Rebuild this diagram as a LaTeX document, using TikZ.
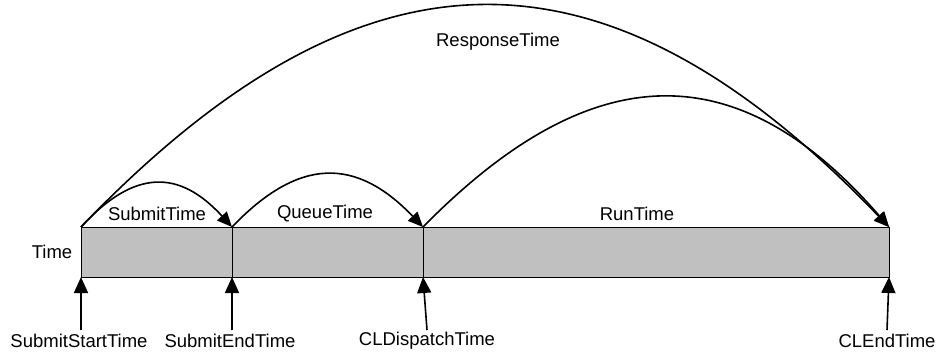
\documentclass[tikz,border=0pt]{standalone}
\usepackage{fontspec}
\setmainfont{Liberation Sans}
\usetikzlibrary{arrows.meta}
\begin{document}
\begin{tikzpicture}[x=1pt,y=-1pt,
  lbl/.style={font=\fontsize{18.5}{22}\selectfont, inner sep=1pt},
  seg/.style={draw=black, line width=0.8pt, fill={rgb,255:red,192;green,192;blue,192}},
  span/.style={line width=1.6pt, -{Triangle[length=15pt,width=13pt]}},
  eventarrow/.style={line width=1.6pt, -{Triangle[length=16pt,width=14pt]}}]
\useasboundingbox (0,0) rectangle (936,354);

% time points along the bar
\coordinate (t0) at (81,227);
\coordinate (t1) at (232,227);
\coordinate (t2) at (423,227);
\coordinate (t3) at (889,227);
\coordinate (b0) at (81,277);
\coordinate (b1) at (232,277);
\coordinate (b2) at (423,277);
\coordinate (b3) at (889,277);

% the time bar, one grey segment per phase
\draw[seg] (t0) rectangle (b1);
\draw[seg] (t1) rectangle (b2);
\draw[seg] (t2) rectangle (b3);

\node[lbl] (time) at (52,252) {Time};

% phase labels
\node[lbl] (submit) at (157,214) {SubmitTime};
\node[lbl] (queue) at (325,214) {QueueTime};
\node[lbl] (run) at (637,214) {RunTime};
\node[lbl] (resp) at (498,42) {ResponseTime};

% duration arcs
\draw[span] (t0) .. controls +(53,-58) and +(-53,-58) .. (t1);
\draw[span] (t1) .. controls +(67,-70) and +(-67,-70) .. (t2);
\draw[span] (t2) .. controls +(170,-173) and +(-150,-173) .. (t3);
\draw[span] (t0) .. controls +(283,-295) and +(-283,-295) .. (t3);

% event labels below the bar
\node[lbl] (ss) at (79,341) {SubmitStartTime};
\node[lbl] (se) at (230,341) {SubmitEndTime};
\node[lbl] (cd) at (427,341) {CLDispatchTime};
\node[lbl] (ce) at (887,341) {CLEndTime};

\coordinate (ssf) at (81,330);
\coordinate (sef) at (232,330);
\coordinate (cdf) at (427,330);
\coordinate (cef) at (887,330);

\draw[eventarrow] (ssf) -- (b0);
\draw[eventarrow] (sef) -- (b1);
\draw[eventarrow] (cdf) -- (b2);
\draw[eventarrow] (cef) -- (b3);
\end{tikzpicture}
\end{document}
